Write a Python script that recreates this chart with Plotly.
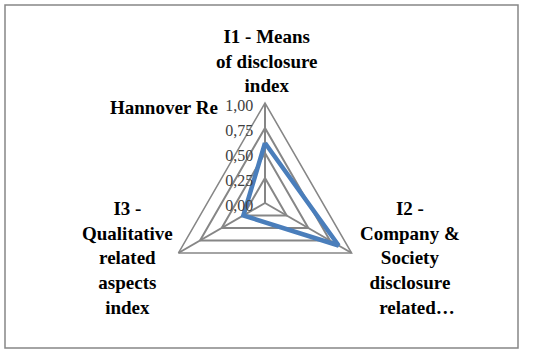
import plotly.graph_objects as go

# series
series_name = "Hannover Re"
categories = [
    "I1 - Means<br>of disclosure<br>index",
    "I2 -<br>Company &<br>Society<br>disclosure<br>&nbsp;&nbsp;&nbsp;related…",
    "I3 -<br>Qualitative<br>related<br>aspects<br>index",
]
values = [0.60, 0.85, 0.25]
radial_ticks = [0, 0.25, 0.5, 0.75, 1.0]

W, H = 537, 350
cx, cy, R = 265, 203, 100  # pixel centre and radius of the radar

grey = "#868686"
label_font = dict(family="Liberation Serif", size=19, color="black")

fig = go.Figure()
fig.add_trace(go.Scatterpolar(
    r=values + values[:1],
    theta=categories + categories[:1],
    mode="lines",
    line=dict(color="#4a7ebb", width=4.5),
    name=series_name,
    showlegend=False,
))

fig.update_layout(
    width=W, height=H,
    margin=dict(l=0, r=0, t=0, b=0),
    paper_bgcolor="white",
    separators=",.",
    polar=dict(
        domain=dict(x=[(cx - R) / W, (cx + R) / W],
                    y=[(H - cy - R) / H, (H - cy + R) / H]),
        bgcolor="white",
        gridshape="linear",
        radialaxis=dict(
            range=[0, 1], tickvals=radial_ticks, tickformat=".2f",
            angle=90, side="counterclockwise",
            showline=False, ticks="",
            gridcolor=grey, gridwidth=1.5,
            tickfont=dict(family="Liberation Serif", size=16, color="#404040"),
        ),
        angularaxis=dict(
            direction="clockwise", rotation=90,
            showticklabels=False, ticks="",
            showline=True, linecolor=grey, linewidth=1.5,
            gridcolor=grey, gridwidth=1.5,
        ),
    ),
)

# category labels and series name, placed like the original
label_pos = [(267, 61), (410, 258), (127, 258)]
for txt, (x, y) in zip(categories, label_pos):
    fig.add_annotation(x=x / W, y=1 - y / H, xref="paper", yref="paper",
                       xanchor="center", yanchor="middle",
                       text="<b>" + txt + "</b>", showarrow=False,
                       font=label_font, align="center")
fig.add_annotation(x=164 / W, y=1 - 108 / H, xref="paper", yref="paper",
                   xanchor="center", yanchor="middle",
                   text="<b>" + series_name + "</b>", showarrow=False,
                   font=label_font)

# chart border
fig.add_shape(type="rect", xref="paper", yref="paper",
              x0=5 / W, y0=1 - 348 / H, x1=518 / W, y1=1 - 5 / H,
              line=dict(color=grey, width=1.5))

# page body has a default margin, drop it so the figure sits at 0,0
fig.write_html("out.html", config={"displayModeBar": False},
               post_script="document.body.style.margin='0';")
